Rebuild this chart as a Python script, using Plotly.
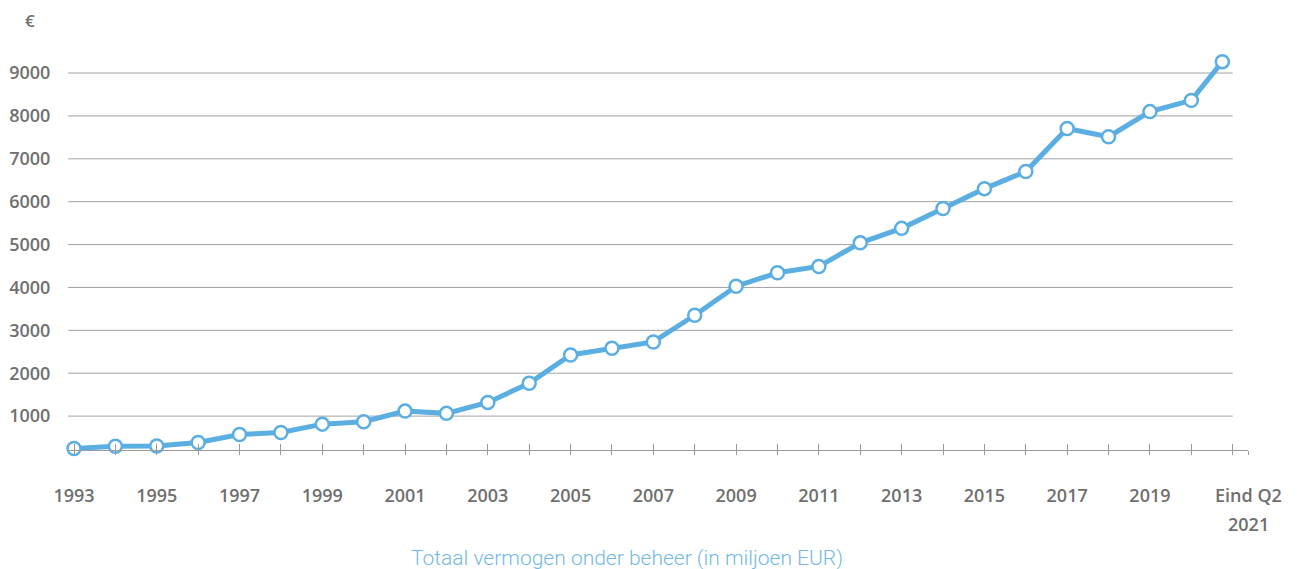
import plotly.graph_objects as go

years = [1993, 1994, 1995, 1996, 1997, 1998, 1999, 2000, 2001, 2002, 2003, 2004,
         2005, 2006, 2007, 2008, 2009, 2010, 2011, 2012, 2013, 2014, 2015, 2016,
         2017, 2018, 2019, 2020, 2020.75]
values = [245, 297, 305, 385, 572, 618, 813, 868, 1117, 1064, 1320, 1766,
          2427, 2583, 2730, 3352, 4030, 4343, 4490, 5040, 5378, 5842, 6304, 6702,
          7705, 7514, 8100, 8362, 9265]
tick_years = list(range(1993, 2022)) + [2021.37]
tick_labels = [str(y) if y % 2 == 1 and y <= 2019 else "" for y in range(1993, 2022)] + [""]
y_ticks = [1000, 2000, 3000, 4000, 5000, 6000, 7000, 8000, 9000]
end_label = ["Eind Q2", "2021"]
caption = "Totaal vermogen onder beheer (in miljoen EUR)"

TXT = "#6f6f6f"
BLUE = "#5BAEE2"
GRID = "#a3a3a3"
FONT = "Open Sans"

fig = go.Figure()
fig.add_trace(go.Scatter(
    x=years, y=values, mode="lines+markers",
    line=dict(color=BLUE, width=5),
    marker=dict(size=13, color="white", line=dict(color=BLUE, width=2.5)),
    cliponaxis=False, showlegend=False, hoverinfo="x+y",
))
# dummy trace on overlay axis for the inward tick halves
fig.add_trace(go.Scatter(x=[years[0]], y=[values[0]], xaxis="x2", mode="markers",
                         marker=dict(opacity=0), showlegend=False, hoverinfo="skip"))

xrange = [1992.855, 2021.37]
grid_end = 2021

shapes = [dict(type="line", xref="x", yref="y", x0=xrange[0], x1=grid_end, y0=v, y1=v,
               line=dict(color=GRID, width=1), layer="below") for v in y_ticks]

fig.update_layout(
    width=1290, height=561,
    margin=dict(l=60, r=50, t=35, b=119),
    plot_bgcolor="white", paper_bgcolor="white",
    shapes=shapes,
    xaxis=dict(
        range=xrange, tickmode="array", tickvals=tick_years, ticktext=tick_labels,
        showgrid=False, zeroline=False, showline=True, linecolor="#9a9a9a", linewidth=1,
        ticks="outside", ticklen=4, tickcolor="#9a9a9a", tickwidth=1,
        ticklabelstandoff=25, automargin=False,
        tickfont=dict(family=FONT, size=18, color=TXT, weight=600),
    ),
    xaxis2=dict(
        range=xrange, overlaying="x", anchor="y", side="bottom",
        tickmode="array", tickvals=tick_years, ticktext=["" for _ in tick_years],
        showgrid=False, zeroline=False, showline=False, automargin=False,
        ticks="inside", ticklen=6, tickcolor="#9a9a9a", tickwidth=1,
    ),
    yaxis=dict(
        range=[210, 9700], tickmode="array", tickvals=y_ticks,
        showgrid=False, zeroline=False, showline=False, automargin=False,
        ticks="outside", ticklen=13, tickcolor="rgba(0,0,0,0)",
        tickfont=dict(family=FONT, size=18, color=TXT, weight=600),
    ),
    annotations=[
        dict(text="€", xref="paper", yref="paper", x=-0.0322, y=1.0565,
             xanchor="center", yanchor="middle",
             showarrow=False, font=dict(family=FONT, size=17, color=TXT, weight=600)),
        dict(text=end_label[0], xref="x", yref="paper", x=2021.37, y=-0.1106,
             xanchor="center", yanchor="middle",
             showarrow=False, font=dict(family=FONT, size=18, color=TXT, weight=600)),
        dict(text=end_label[1], xref="x", yref="paper", x=2021.37, y=-0.1818,
             xanchor="center", yanchor="middle",
             showarrow=False, font=dict(family=FONT, size=18, color=TXT, weight=600)),
        dict(text=caption, xref="paper", yref="paper", x=0.4737, y=-0.2654,
             xanchor="center", yanchor="middle",
             showarrow=False, font=dict(family="Roboto", size=21, color="#74B9E5", weight=300)),
    ],
)

fig.write_html("out.html")
